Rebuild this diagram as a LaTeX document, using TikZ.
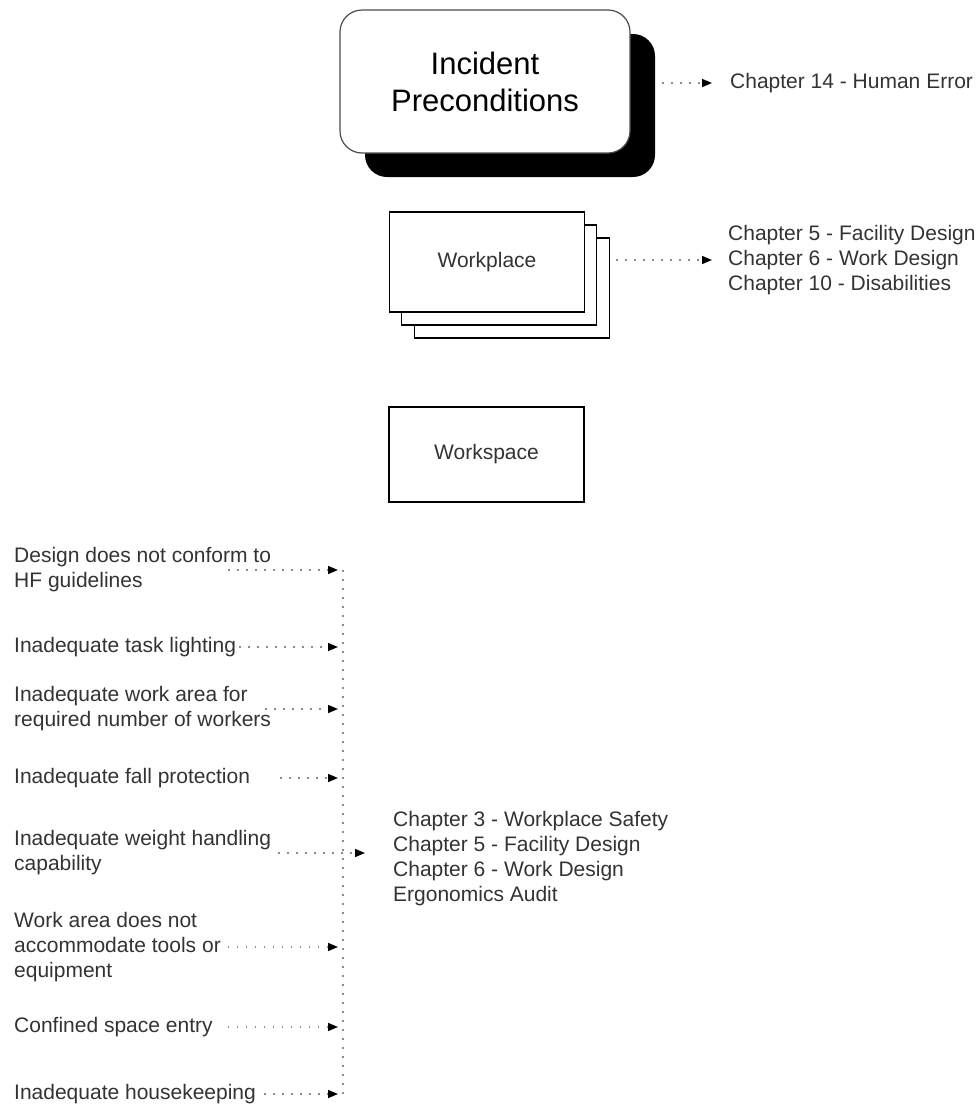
\documentclass[tikz,border=0pt]{standalone}
\usepackage{fontspec}
\setmainfont{Liberation Sans}
\usetikzlibrary{positioning,arrows.meta,calc}
\tikzset{
    % Text styles
    note/.style={font=\fontsize{21}{25}\selectfont, text=black!80, align=left, inner sep=0pt},
    % Box styles
    shadowbox/.style={rectangle, fill=black, rounded corners=22pt,
                      minimum width=290pt, minimum height=143pt, inner sep=0pt},
    bigbox/.style={rectangle, draw=black!70, line width=1.2pt, fill=white, rounded corners=22pt,
                   minimum width=290pt, minimum height=143pt, align=center,
                   font=\fontsize{31}{37}\selectfont},
    card/.style={rectangle, draw=black, line width=1.2pt, fill=white,
                 minimum width=195pt, minimum height=100pt,
                 font=\fontsize{21}{25}\selectfont, text=black!80},
    % Arrow styles
    dotline/.style={draw=black!45, line width=1.5pt, dash pattern=on 1.5pt off 7.5pt},
    dotarrow/.style={dotline, -{Triangle[length=10pt, width=8pt, color=black]}},
}

\begin{document}
\begin{tikzpicture}[x=1pt, y=-1pt]
    \useasboundingbox (0,0) rectangle (977,1106);

    % Incident preconditions
    \node[shadowbox] (incsh) at (510,105.5) {};
    \node[bigbox] (inc) at (485,81.5) {Incident\\Preconditions};
    \node[note, anchor=west] (hum) at (730,83) {Chapter 14 - Human Error};
    \draw[dotarrow, shorten <=7pt, shorten >=18pt] (incsh.east |- hum.west) -- (hum.west);

    % Workplace stack
    \node[card] (wp3) at (512,288) {};
    \node[card] (wp2) at (499,275) {};
    \node[card] (wp) at (487,262) {Workplace};
    \node[note, anchor=west] (wpref) at (728,260)
        {Chapter 5 - Facility Design\\Chapter 6 - Work Design\\Chapter 10 - Disabilities};
    \draw[dotarrow, shorten <=6pt, shorten >=16pt] (wp3.east |- wpref.west) -- (wpref.west);

    % Workspace
    \node[card, minimum height=95pt] (ws) at (486.5,454.5) {Workspace};

    % Causes
    \coordinate (bus) at (343,0);
    \foreach \n/\y/\t in {
        1/570/{Design does not conform to\\HF guidelines},
        2/647/{Inadequate task lighting},
        3/709/{Inadequate work area for\\required number of workers},
        4/778/{Inadequate fall protection},
        5/853/{Inadequate weight handling\\capability},
        6/947/{Work area does not\\accommodate tools or\\equipment},
        7/1027/{Confined space entry},
        8/1094/{Inadequate housekeeping}}
        \node[note, anchor=west] (w\n) at (14,\y) {\t};

    \node[note, anchor=west] (ref) at (393,859)
        {Chapter 3 - Workplace Safety\\Chapter 5 - Facility Design\\Chapter 6 - Work Design\\Ergonomics Audit};

    \draw[dotline] (w1.east -| bus) -- (w8.east -| bus);
    \foreach \n/\s in {1/-43,2/3,3/-6,4/30,6/7,7/15,8/8}
        \draw[dotarrow, shorten <=\s pt, shorten >=5pt] (w\n.east) -- (w\n.east -| bus);
    \draw[dotarrow, shorten <=7pt, shorten >=28pt] (w5.east) -- (w5.east -| ref.west);
\end{tikzpicture}
\end{document}
